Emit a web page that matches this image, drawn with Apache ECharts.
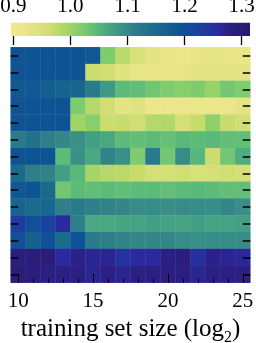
<!DOCTYPE html>
<html><head><meta charset="utf-8">
<script src="https://cdn.jsdelivr.net/npm/echarts@6/dist/echarts.min.js"></script>
<style>html,body{margin:0;padding:0;background:#fff}#c{width:256px;height:343px}</style>
</head><body><div id="c"></div>
<script>
// ---- data ----
const xCategories = ['10','11','12','13','14','15','16','17','18','19','20','21','22','23','24','25'];
const rowNames = ['r1','r2','r3','r4','r5','r6','r7','r8','r9','r10','r11','r12','r13','r14'];
const values = [
  [1.19,1.19,1.19,1.19,1.19,1.185,1.02,0.98,0.95,0.935,0.925,0.922,0.925,0.927,0.925,0.925],
  [1.19,1.19,1.19,1.19,1.19,0.965,0.96,0.94,0.925,0.925,0.925,0.925,0.935,0.933,0.935,0.93],
  [1.18,1.185,1.17,1.16,1.158,1.12,1.08,1.045,1.042,1.03,1.02,1.015,1.02,1.005,1.028,1.02],
  [1.19,1.19,1.19,1.19,1.02,0.985,0.96,0.93,0.94,0.92,0.92,0.92,0.92,0.92,0.922,0.93],
  [1.19,1.19,1.19,1.19,1.0,1.015,0.965,0.97,0.96,0.985,0.987,0.955,0.97,1.01,0.97,0.96],
  [1.12,1.135,1.11,1.10,1.09,1.075,1.065,1.045,1.04,1.045,1.038,1.048,1.045,1.048,1.04,1.04],
  [1.19,1.19,1.19,1.045,1.09,1.065,1.105,1.09,1.02,1.12,1.028,1.095,1.05,0.965,1.028,1.06],
  [1.15,1.11,1.105,1.075,1.048,0.995,0.985,0.98,0.97,0.955,0.955,0.96,0.95,0.955,0.96,0.955],
  [1.185,1.19,1.15,1.03,1.045,1.04,1.045,1.04,1.045,1.045,1.04,1.045,1.048,1.045,1.04,1.04],
  [1.16,1.15,1.155,1.11,1.12,1.11,1.105,1.10,1.095,1.095,1.092,1.095,1.095,1.093,1.10,1.092],
  [1.235,1.20,1.22,1.26,1.11,1.065,1.065,1.068,1.07,1.075,1.07,1.068,1.075,1.068,1.07,1.075],
  [1.20,1.165,1.20,1.15,1.195,1.12,1.11,1.105,1.10,1.10,1.10,1.095,1.092,1.093,1.095,1.095],
  [1.29,1.295,1.295,1.26,1.275,1.27,1.27,1.245,1.26,1.26,1.28,1.29,1.25,1.275,1.27,1.265],
  [1.295,1.29,1.28,1.28,1.28,1.27,1.28,1.27,1.28,1.28,1.285,1.285,1.27,1.28,1.28,1.28]
];
const colorbarTicks = [0.9, 1.0, 1.1, 1.2, 1.3];
const xMajorTicks = [10, 15, 20, 25];
const vMin = 0.896, vMax = 1.3145;
const cmapStops = [
  [0.896,'#efe794'],[0.92,'#ebe68a'],[0.95,'#d8e07a'],[0.97,'#c8dc6c'],[1.0,'#9fd466'],
  [1.02,'#7fcc6e'],[1.045,'#5cbb7a'],[1.07,'#45a283'],[1.09,'#3a9087'],[1.11,'#2e7f8a'],
  [1.15,'#1a6a8c'],[1.19,'#0e5494'],[1.22,'#1844a0'],[1.26,'#2a2aa0'],[1.28,'#2b1f82'],[1.3145,'#2a186a']
];

// ---- helpers ----
function h2r(h){return [parseInt(h.slice(1,3),16),parseInt(h.slice(3,5),16),parseInt(h.slice(5,7),16)];}
function cmap(v){
  if (v <= cmapStops[0][0]) return cmapStops[0][1];
  for (let i=1;i<cmapStops.length;i++){
    if (v <= cmapStops[i][0]){
      const [v0,c0]=cmapStops[i-1],[v1,c1]=cmapStops[i];
      const t=(v-v0)/(v1-v0), a=h2r(c0), b=h2r(c1);
      return 'rgb('+a.map((x,k)=>Math.round(x+(b[k]-x)*t)).join(',')+')';
    }
  }
  return cmapStops[cmapStops.length-1][1];
}
const palette=[]; for(let i=0;i<=80;i++) palette.push(cmap(vMin+(vMax-vMin)*i/80));
const gradStops = cmapStops.map(s=>({offset:(s[0]-vMin)/(vMax-vMin), color:s[1]}));
const heatData=[]; values.forEach((row,r)=>row.forEach((v,c)=>heatData.push([c,r,v])));

const serif = 'Liberation Serif';
const tickStyle = (w)=>({color:'#000', width:w});
const chart = echarts.init(document.getElementById('c'), null, {renderer:'canvas'});
chart.setOption({
  animation:false,
  grid:[
    {left:11, top:22.7, width:239, height:13.3, outerBoundsMode:'none', containLabel:false},
    {left:10.7, top:47.3, width:239.6, height:235.4, outerBoundsMode:'none', containLabel:false}
  ],
  xAxis:[
    {gridIndex:0, type:'value', min:vMin, max:vMax, position:'top', z:20,
     axisLine:{show:false}, splitLine:{show:false},
     axisTick:{show:true, inside:true, length:9, customValues:colorbarTicks, lineStyle:tickStyle(1.3)},
     axisLabel:{show:true, customValues:colorbarTicks, formatter:v=>v.toFixed(1), fontFamily:serif, fontSize:21, color:'#000', margin:6}},
    {gridIndex:1, type:'category', data:xCategories, position:'bottom', z:20,
     axisLine:{show:false}, splitLine:{show:false}, axisLabel:{show:false, interval:0},
     axisTick:{show:true, inside:true, alignWithLabel:true, interval:0, length:4, lineStyle:tickStyle(1)}},
    {gridIndex:1, type:'value', min:9.5, max:25.5, position:'bottom', z:20,
     axisLine:{show:false}, splitLine:{show:false},
     axisTick:{show:true, inside:true, length:9, customValues:xMajorTicks, lineStyle:tickStyle(1)},
     axisLabel:{show:true, customValues:xMajorTicks, fontFamily:serif, fontSize:21, color:'#000', margin:8},
     name:'{a|training set size (log}{b|2}{a|)}', nameLocation:'middle', nameGap:29,
     nameTextStyle:{fontFamily:serif, fontSize:25, color:'#000',
       rich:{a:{fontFamily:serif, fontSize:25, color:'#000', verticalAlign:'top', lineHeight:28},
             b:{fontFamily:serif, fontSize:16, color:'#000', verticalAlign:'top', lineHeight:28, padding:[13,0,0,0]}}}}
  ],
  yAxis:[
    {gridIndex:0, type:'value', min:0, max:1, show:false},
    {gridIndex:1, type:'category', data:rowNames, inverse:true, position:'left', z:20,
     axisLine:{show:false}, splitLine:{show:false}, axisLabel:{show:false, interval:0},
     axisTick:{show:true, inside:true, alignWithLabel:true, interval:0, length:7.5, lineStyle:tickStyle(1.5)}},
    {gridIndex:1, type:'category', data:rowNames, inverse:true, position:'right', z:20,
     axisLine:{show:false}, splitLine:{show:false}, axisLabel:{show:false, interval:0},
     axisTick:{show:true, inside:true, alignWithLabel:true, interval:0, length:7.5, lineStyle:tickStyle(1.5)}}
  ],
  visualMap:{show:false, type:'continuous', min:vMin, max:vMax, seriesIndex:1, dimension:2, inRange:{color:palette}},
  series:[
    {type:'custom', xAxisIndex:0, yAxisIndex:0, data:[[vMin, vMax]], silent:true, z:1,
     renderItem:function(params, api){
       const p0=api.coord([api.value(0),1]), p1=api.coord([api.value(1),0]);
       return {type:'rect', shape:{x:p0[0], y:p0[1], width:p1[0]-p0[0], height:p1[1]-p0[1]},
               style:{fill:new echarts.graphic.LinearGradient(0,0,1,0,gradStops)}};
     }},
    {type:'heatmap', xAxisIndex:1, yAxisIndex:1, data:heatData, z:1,
     itemStyle:{borderColor:'rgba(255,255,255,0.05)', borderWidth:0.6}}
  ]
});
</script>
</body></html>
